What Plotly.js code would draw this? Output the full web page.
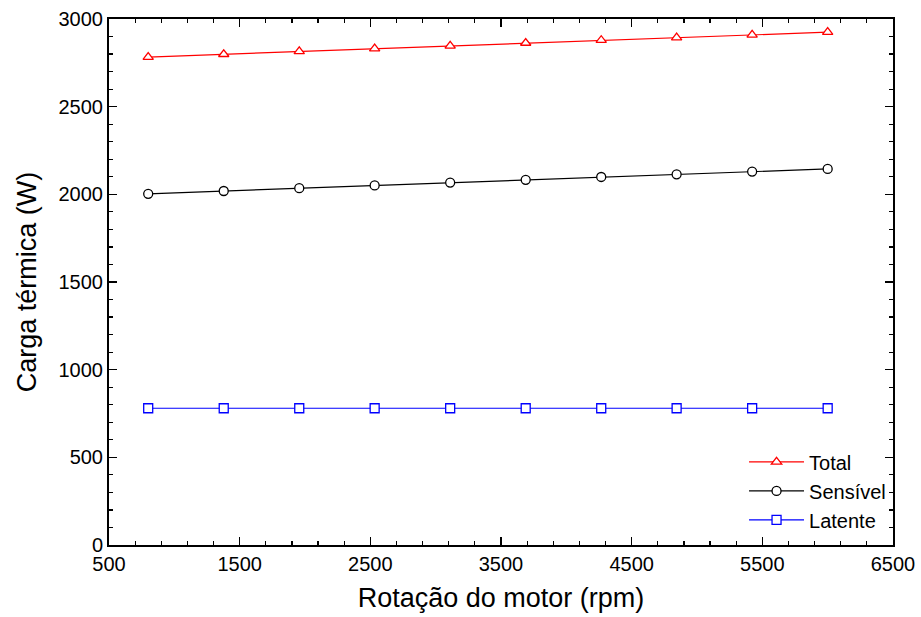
<!DOCTYPE html>
<html>
<head>
<meta charset="utf-8">
<script src="https://cdn.plot.ly/plotly-3.0.1.min.js"></script>
<style>html,body{margin:0;padding:0;background:#fff;}#chart{width:921px;height:617px;}</style>
</head>
<body>
<div id="chart"></div>
<script>
const rpm = [800, 1378, 1956, 2533, 3111, 3689, 4267, 4844, 5422, 6000];
const total = [2783, 2799, 2815, 2831, 2847, 2863, 2879, 2894, 2910, 2925];
const sensivel = [2003, 2019, 2035, 2051, 2067, 2083, 2099, 2114, 2130, 2145];
const latente = [780, 780, 780, 780, 780, 780, 780, 780, 780, 780];
const xTicks = [500, 1500, 2500, 3500, 4500, 5500, 6500];
const yTicks = [0, 500, 1000, 1500, 2000, 2500, 3000];

const font = 'Arial, "Liberation Sans", sans-serif';
function tr(name, y, color, symbol) {
  return {
    x: rpm, y: y, name: name, type: 'scatter', mode: 'lines+markers',
    line: {color: color, width: 1.2},
    marker: {symbol: symbol, size: 9, color: '#ffffff', line: {color: color, width: 1.3}}
  };
}
const data = [
  tr('Total', total, '#ff0000', 'triangle-up'),
  tr('Sensível', sensivel, '#000000', 'circle'),
  tr('Latente', latente, '#0000ff', 'square')
];
const axisCommon = {
  showgrid: false, zeroline: false, showline: true, linecolor: '#000', linewidth: 2,
  mirror: 'ticks', ticks: 'inside', ticklen: 8, tickwidth: 1.5, tickcolor: '#000',
  tickfont: {family: font, size: 20, color: '#000'}
};
const layout = {
  width: 921, height: 617,
  margin: {l: 109, r: 28, t: 19, b: 72},
  paper_bgcolor: '#fff', plot_bgcolor: '#fff',
  showlegend: true,
  legend: {x: 0.81, y: 0.195, xanchor: 'left', yanchor: 'top', font: {family: font, size: 20, color: '#000'},
           bgcolor: 'rgba(0,0,0,0)', itemwidth: 55, tracegroupgap: 0},
  xaxis: Object.assign({}, axisCommon, {
    range: [500, 6500], tickvals: xTicks, ticktext: xTicks.map(String),
    minor: {dtick: 200, tick0: 500, ticks: 'inside', ticklen: 4, tickwidth: 1.2, tickcolor: '#000'},
    title: {text: 'Rotação do motor (rpm)', font: {family: font, size: 27, color: '#000'}, standoff: 14}
  }),
  yaxis: Object.assign({}, axisCommon, {
    range: [0, 3000], tickvals: yTicks, ticktext: yTicks.map(String),
    minor: {dtick: 100, tick0: 0, ticks: 'inside', ticklen: 4, tickwidth: 1.2, tickcolor: '#000'},
    title: {text: 'Carga térmica (W)', font: {family: font, size: 27, color: '#000'}, standoff: 14}
  })
};
Plotly.newPlot('chart', data, layout, {displayModeBar: false, staticPlot: true});
</script>
</body>
</html>
